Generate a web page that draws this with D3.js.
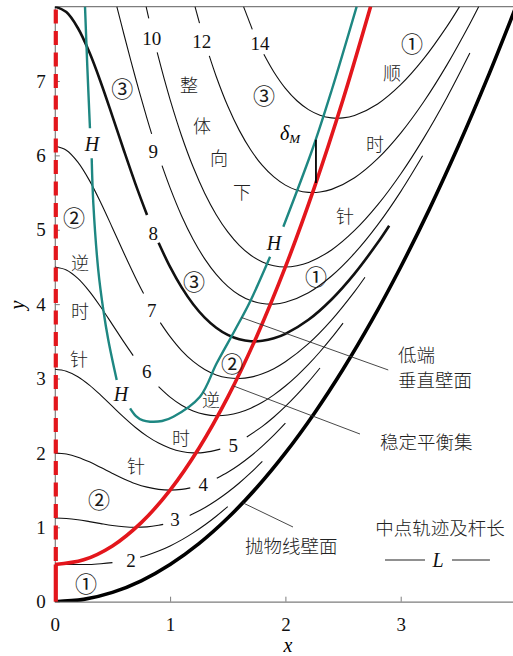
<!DOCTYPE html>
<html>
<head>
<meta charset="utf-8">
<script src="https://cdn.jsdelivr.net/npm/d3@7"></script>
<style>
  html, body { margin: 0; padding: 0; background: #fff; }
  svg { display: block; }
</style>
</head>
<body>
<svg id="chart" width="513" height="656"></svg>
<script>
// ---------------- data ----------------
const xTicks = [0, 1, 2, 3];
const yTicks = [0, 1, 2, 3, 4, 5, 6, 7];

// parabolic wall
const wallPts = [[0,0],[0.25,0.031],[0.5,0.125],[0.75,0.281],[1,0.5],[1.25,0.781],[1.5,1.125],
  [1.75,1.531],[2,2],[2.25,2.531],[2.5,3.125],[2.75,3.781],[3,4.5],[3.25,5.281],[3.5,6.125],
  [3.75,7.031],[4,8]];

// stable equilibrium set
const stablePts = [[0,0.5],[0.25,0.563],[0.5,0.75],[0.75,1.063],[1,1.5],[1.25,2.063],[1.5,2.75],
  [1.75,3.563],[2,4.5],[2.25,5.563],[2.5,6.75],[2.739,8]];

// H curve (pieces between the H labels)
const hCurve = [
  [[0.262,8.0],[0.282,7.192],[0.305,6.364]],
  [[0.320,5.961],[0.334,5.356],[0.377,4.459],[0.421,3.921],[0.464,3.518],[0.537,2.980]],
  [[0.653,2.600],[0.704,2.496],[0.765,2.436],[0.826,2.420],[0.930,2.429],[1.028,2.487],
   [1.259,2.756],[1.404,3.205],[1.563,3.653],[1.693,4.033],[1.867,4.638]],
  [[1.982,5.041],[2.242,6.116],[2.402,6.879],[2.618,8.0]]
];

// midpoint trajectories for rod lengths L (pieces split at the value labels)
const contour2 = [
  [[0,0.5],[0.1,0.5],[0.2,0.5],[0.3,0.5],[0.4,0.51],[0.5,0.525]],
  [[0.74,0.597],[0.8,0.625],[0.9,0.681],[1.0,0.75],[1.1,0.831],[1.2,0.925],[1.3,1.031],[1.4,1.149],[1.5,1.279]]
];
const contour3 = [
  [[0,1.125],[0.1,1.119],[0.2,1.102],[0.3,1.077],[0.4,1.05],[0.5,1.025],[0.6,1.007],[0.7,1.0],[0.8,1.006],[0.9,1.027],[0.94,1.039]],
  [[1.17,1.159],[1.2,1.181],[1.3,1.263],[1.4,1.36],[1.5,1.471],[1.6,1.596],[1.7,1.734],[1.8,1.885]]
];
const contour4 = [
  [[0,2.0],[0.1,1.985],[0.2,1.943],[0.3,1.88],[0.4,1.804],[0.5,1.725],[0.6,1.651],[0.7,1.587],[0.8,1.54],[0.9,1.51],[1.0,1.5],[1.1,1.51],[1.175,1.53]],
  [[1.405,1.66],[1.5,1.74],[1.6,1.842],[1.7,1.959],[1.8,2.092],[1.9,2.239],[2.0,2.4]]
];
const contour5 = [
  [[0,3.125],[0.1,3.099],[0.2,3.025],[0.3,2.912],[0.4,2.774],[0.5,2.625],[0.6,2.478],[0.7,2.342],[0.8,2.226],[0.9,2.132],[1.0,2.063],[1.1,2.019],[1.2,2.001],[1.3,2.007],[1.435,2.051]],
  [[1.665,2.215],[1.8,2.357],[1.9,2.483],[2.0,2.625],[2.1,2.783],[2.2,2.955],[2.3,3.142]]
];
const contour6 = [
  [[0,4.5],[0.1,4.46],[0.2,4.347],[0.3,4.173],[0.4,3.959],[0.5,3.725],[0.6,3.489],[0.68,3.308]],
  [[0.9,2.891],[1.0,2.75],[1.1,2.641],[1.2,2.564],[1.3,2.518],[1.4,2.5],[1.5,2.51],[1.6,2.544],[1.7,2.602],[1.8,2.681],[1.9,2.781],[2.0,2.9],[2.1,3.037],[2.2,3.19],[2.3,3.36],[2.4,3.546],[2.5,3.746]]
];
const contour7 = [
  [[0,6.125],[0.1,6.069],[0.2,5.909],[0.3,5.664],[0.4,5.36],[0.5,5.025],[0.6,4.684],[0.7,4.356],[0.77,4.142]],
  [[0.915,3.752],[1.0,3.563],[1.1,3.376],[1.2,3.23],[1.3,3.122],[1.4,3.049],[1.5,3.01],[1.6,3.0],[1.7,3.019],[1.8,3.065],[1.9,3.133],[2.0,3.225],[2.2,3.469],[2.4,3.786],[2.6,4.169],[2.69,4.362]]
];
const contour8 = [
  [[0,8.0],[0.1,7.926],[0.2,7.712],[0.3,7.385],[0.4,6.977],[0.5,6.525],[0.6,6.062],[0.7,5.614],[0.8,5.198]],
  [[0.9,4.825],[1.0,4.5],[1.1,4.225],[1.2,3.999],[1.3,3.819],[1.4,3.683],[1.5,3.586],[1.6,3.527],[1.7,3.501],[1.8,3.507],[1.9,3.54],[2.0,3.6],[2.2,3.79],[2.4,4.063],[2.6,4.411],[2.8,4.825],[2.9,5.055]]
];
const contour9 = [
  [[0.538,8.0],[0.6,7.625],[0.7,7.04],[0.8,6.494],[0.84,6.289]],
  [[0.93,5.862],[1.0,5.563],[1.1,5.186],[1.2,4.87],[1.3,4.609],[1.4,4.401],[1.5,4.24],[1.6,4.124],[1.7,4.048],[1.8,4.008],[1.9,4.001],[2.0,4.025],[2.2,4.153],[2.4,4.378],[2.6,4.685],[2.8,5.065],[3.0,5.513],[3.19,5.994]]
];
const contour10 = [
  [[0.792,8.0],[0.815,7.843]],
  [[0.888,7.384],[0.95,7.022],[1.0,6.75],[1.1,6.261],[1.2,5.843],[1.3,5.492],[1.4,5.203],[1.5,4.971],[1.6,4.791],[1.7,4.658],[1.8,4.568],[1.9,4.516],[2.0,4.5],[2.1,4.516],[2.2,4.56],[2.4,4.729],[2.6,4.991],[2.8,5.334],[3.0,5.75],[3.2,6.232],[3.4,6.775],[3.6,7.375]]
];
const contour12 = [
  [[1.216,8.0],[1.255,7.778]],
  [[1.34,7.337],[1.4,7.061],[1.5,6.663],[1.6,6.336],[1.7,6.072],[1.8,5.865],[1.9,5.71],[2.0,5.6],[2.1,5.532],[2.2,5.502],[2.3,5.507],[2.4,5.543],[2.6,5.7],[2.8,5.956],[3.0,6.3],[3.2,6.721],[3.4,7.213],[3.6,7.769],[3.677,8.0]]
];
const contour14 = [
  [[1.637,8.0],[1.713,7.694]],
  [[1.813,7.358],[1.9,7.12],[2.0,6.9],[2.1,6.734],[2.2,6.615],[2.3,6.54],[2.4,6.504],[2.5,6.504],[2.6,6.537],[2.8,6.691],[3.0,6.95],[3.2,7.3],[3.4,7.731],[3.51,8.0]]
];

const lengths = [2, 3, 4, 5, 6, 7, 8, 9, 10, 12, 14];
const contourPieces = [contour2, contour3, contour4, contour5, contour6, contour7,
                       contour8, contour9, contour10, contour12, contour14];
// where each L value is written on its curve
const lengthLabelPos = [[0.661,0.56],[1.042,1.099],[1.288,1.569],[1.548,2.106],[0.797,3.092],
  [0.84,3.921],[0.854,4.952],[0.854,6.049],[0.84,7.574],[1.274,7.528],[1.78,7.506]];

// deviation between H curve and stable set
const deltaM = [[2.265,5.63],[2.265,6.21]];

// region marks
const regionMarks = [
  ["③",0.584,6.919],["③",1.814,6.825],["③",1.207,4.324],
  ["②",0.167,5.185],["②",1.537,3.222],["②",0.383,1.394],
  ["①",3.098,7.523],["①",2.266,4.391],["①",0.271,0.265]
];
// rotation sense words
const senseWords = [
  ["整",1.164,6.959],["体",1.277,6.408],["向",1.424,5.978],["下",1.624,5.521],
  ["顺",2.924,7.12],["时",2.777,6.166],["针",2.517,5.198],
  ["逆",0.219,4.566],["时",0.219,3.921],["针",0.21,3.276],
  ["逆",1.355,2.725],["时",1.094,2.214],["针",0.704,1.838]
];
const hLabels = [[0.323,6.153],[0.574,2.792],[1.901,4.822]];

// callouts: text lines with anchor point, and leader lines
const callouts = [
  {lines:["低端","垂直壁面"], x:2.977, y:[3.33,2.99], lead:[[1.62,3.82],[2.892,3.115]]},
  {lines:["稳定平衡集"], x:2.82, y:[2.159], lead:[[1.55,2.9],[2.647,2.254]]},
  {lines:["抛物线壁面"], x:1.65, y:[0.761], lead:[[1.63,1.33],[2.066,1.004]]}
];

// ---------------- drawing ----------------
const svg = d3.select("#chart");
const x = d3.scaleLinear().domain([0, 4]).range([54.8, 516]);
const y = d3.scaleLinear().domain([0, 8]).range([601.7, 6.6]);

const serif = "'Liberation Serif', 'DejaVu Serif', serif";
const cjk = "'Noto Sans CJK SC', sans-serif";
const axisGrey = "#7d7d7d";
const red = "#e3161c";

svg.append("defs").append("clipPath").attr("id", "plot")
  .append("rect").attr("x", x(0)).attr("y", y(8)).attr("width", x(4) - x(0)).attr("height", y(0) - y(8));

// axes
const xAxis = svg.append("g").attr("transform", `translate(0,${y(0)})`)
  .call(d3.axisBottom(x).tickValues(xTicks).tickSizeInner(-5).tickSizeOuter(0).tickPadding(16).tickFormat(d3.format("d")));
const yAxis = svg.append("g").attr("transform", `translate(${x(0)},0)`)
  .call(d3.axisLeft(y).tickValues(yTicks).tickSizeInner(-5).tickSizeOuter(0).tickPadding(9).tickFormat(d3.format("d")));
[xAxis, yAxis].forEach(g => {
  g.select(".domain").attr("stroke", axisGrey).attr("stroke-width", 1.2);
  g.selectAll(".tick line").attr("stroke", axisGrey);
  g.selectAll(".tick text").attr("fill", "#111").style("font-family", serif).style("font-size", "19px");
});
// top frame
svg.append("line").attr("x1", x(0)).attr("x2", x(4)).attr("y1", y(8)).attr("y2", y(8))
  .attr("stroke", axisGrey).attr("stroke-width", 1.2);

svg.append("text").attr("x", 288).attr("y", 645).attr("text-anchor", "middle").attr("dominant-baseline", "central")
  .style("font-family", serif).style("font-style", "italic").style("font-size", "20px").text("x");
svg.append("text").attr("transform", "translate(17,305) rotate(-90)").attr("text-anchor", "middle")
  .attr("dominant-baseline", "central")
  .style("font-family", serif).style("font-style", "italic").style("font-size", "20px").text("y");

const plot = svg.append("g").attr("clip-path", "url(#plot)");
const line = d3.line().x(d => x(d[0])).y(d => y(d[1])).curve(d3.curveCatmullRom.alpha(0.5));

// trajectories
contourPieces.forEach((pieces, i) => {
  pieces.forEach(p => {
    plot.append("path").attr("d", line(p)).attr("fill", "none")
      .attr("stroke", "#111").attr("stroke-width", lengths[i] === 8 ? 2.6 : 1.1);
  });
});

// leader lines
callouts.forEach(c => {
  svg.append("line").attr("x1", x(c.lead[0][0])).attr("y1", y(c.lead[0][1]))
    .attr("x2", x(c.lead[1][0])).attr("y2", y(c.lead[1][1]))
    .attr("stroke", "#333").attr("stroke-width", 0.9);
});

// parabolic wall
plot.append("path").attr("d", line(wallPts)).attr("fill", "none").attr("stroke", "#000").attr("stroke-width", 3.6);

// H curve
hCurve.forEach(p => {
  plot.append("path").attr("d", line(p)).attr("fill", "none").attr("stroke", "#1e8782").attr("stroke-width", 2.4);
});

// stable equilibrium set
plot.append("path").attr("d", line(stablePts)).attr("fill", "none").attr("stroke", red).attr("stroke-width", 3.6);

// equilibria on the vertical wall x = 0 (solid below, dashed above)
svg.append("line").attr("x1", x(0) + 1).attr("x2", x(0) + 1).attr("y1", y(0)).attr("y2", y(0.5))
  .attr("stroke", red).attr("stroke-width", 4.2);
svg.append("line").attr("x1", x(0) + 1).attr("x2", x(0) + 1).attr("y1", y(8) + 3).attr("y2", y(0.5))
  .attr("stroke", red).attr("stroke-width", 4.2).attr("stroke-dasharray", "14,7.5");

// delta_M marker
plot.append("path").attr("d", d3.line().x(d => x(d[0])).y(d => y(d[1]))(deltaM))
  .attr("stroke", "#000").attr("stroke-width", 1.8);
const dm = svg.append("text").attr("x", x(2.04)).attr("y", y(6.3)).attr("text-anchor", "middle")
  .attr("dominant-baseline", "central").style("font-family", serif).style("font-size", "20px").style("font-style", "italic");
dm.append("tspan").text("δ");
dm.append("tspan").attr("dy", 5).style("font-size", "13px").text("M");

// L value labels
lengths.forEach((L, i) => {
  svg.append("text").attr("x", x(lengthLabelPos[i][0])).attr("y", y(lengthLabelPos[i][1]))
    .attr("text-anchor", "middle").attr("dominant-baseline", "central")
    .style("font-family", serif).style("font-size", "19px").attr("fill", "#111").text(L);
});

// region marks
regionMarks.forEach(([t, px, py]) => {
  svg.append("text").attr("x", x(px)).attr("y", y(py)).attr("text-anchor", "middle").attr("dominant-baseline", "central")
    .style("font-family", cjk).style("font-weight", 400).style("font-size", "22px").attr("fill", "#1a1a1a").text(t);
});
senseWords.forEach(([t, px, py]) => {
  svg.append("text").attr("x", x(px)).attr("y", y(py)).attr("text-anchor", "middle").attr("dominant-baseline", "central")
    .style("font-family", cjk).style("font-weight", 300).style("font-size", "18px").attr("fill", "#222").text(t);
});
hLabels.forEach(([px, py]) => {
  svg.append("text").attr("x", x(px)).attr("y", y(py)).attr("text-anchor", "middle").attr("dominant-baseline", "central")
    .style("font-family", serif).style("font-style", "italic").style("font-size", "20px").attr("fill", "#111").text("H");
});

// callout texts
callouts.forEach(c => {
  c.lines.forEach((t, k) => {
    svg.append("text").attr("x", x(c.x)).attr("y", y(c.y[k])).attr("dominant-baseline", "central")
      .style("font-family", cjk).style("font-weight", 300).style("font-size", "18.5px").attr("fill", "#222").text(t);
  });
});

// legend note: midpoint trajectories and rod length
svg.append("text").attr("x", x(3.341)).attr("y", y(1.0)).attr("text-anchor", "middle").attr("dominant-baseline", "central")
  .style("font-family", cjk).style("font-weight", 300).style("font-size", "18.5px").attr("fill", "#222").text("中点轨迹及杆长");
[[2.864, 3.211], [3.445, 3.774]].forEach(([a, b]) => {
  svg.append("line").attr("x1", x(a)).attr("x2", x(b)).attr("y1", y(0.56)).attr("y2", y(0.56))
    .attr("stroke", "#222").attr("stroke-width", 1.1);
});
svg.append("text").attr("x", x(3.324)).attr("y", y(0.56)).attr("text-anchor", "middle").attr("dominant-baseline", "central")
  .style("font-family", serif).style("font-style", "italic").style("font-size", "20px").attr("fill", "#111").text("L");
</script>
</body>
</html>
